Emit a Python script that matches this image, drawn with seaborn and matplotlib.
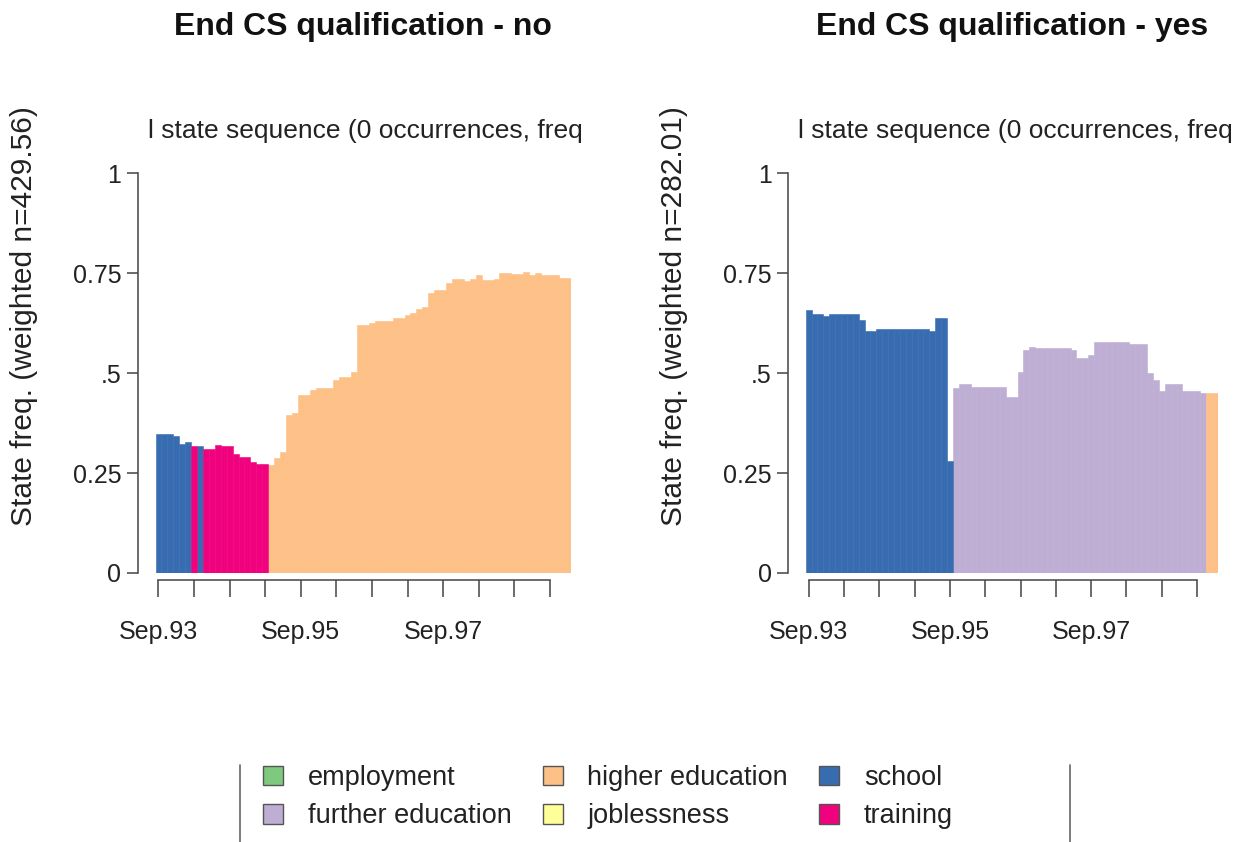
import matplotlib
matplotlib.use('Agg')
import matplotlib.pyplot as plt
import seaborn as sns
import pandas as pd
from matplotlib.patches import Patch
from matplotlib.lines import Line2D

# state alphabet and colours (RColorBrewer "Accent", as TraMineR uses)
states = ['employment', 'further education', 'higher education',
          'joblessness', 'school', 'training']
state_colors = ['#7FC97F', '#BEAED4', '#FDC086', '#FFFF99', '#386CB0', '#F0027F']

# 70 monthly positions, Sep.93 .. Jun.99
months = list(range(70))
tick_months = [0, 6, 12, 18, 24, 30, 36, 42, 48, 54, 60, 66]
tick_labels = ['Sep.93', '', '', '', 'Sep.95', '', '', '', 'Sep.97', '', '', '']

# modal state per month, group "no"
modal_no = (['school'] * 6 + ['training'] + ['school'] + ['training'] * 11
            + ['higher education'] * 51)
freq_no = [0.348, 0.348, 0.348, 0.343, 0.323, 0.328, 0.318, 0.318, 0.309, 0.309,
           0.320, 0.318, 0.318, 0.298, 0.291, 0.291, 0.278, 0.273, 0.273, 0.270,
           0.287, 0.303, 0.395, 0.400, 0.445, 0.445, 0.458, 0.462, 0.462, 0.462,
           0.483, 0.489, 0.489, 0.503, 0.620, 0.620, 0.626, 0.631, 0.631, 0.631,
           0.637, 0.637, 0.645, 0.650, 0.660, 0.665, 0.700, 0.708, 0.708, 0.725,
           0.735, 0.735, 0.730, 0.735, 0.745, 0.733, 0.733, 0.735, 0.750, 0.750,
           0.747, 0.747, 0.752, 0.746, 0.750, 0.745, 0.745, 0.745, 0.737, 0.737]

# modal state per month, group "yes"
modal_yes = ['school'] * 25 + ['further education'] * 43 + ['higher education'] * 2
freq_yes = [0.657, 0.647, 0.647, 0.643, 0.647, 0.647, 0.647, 0.647, 0.647, 0.633,
            0.605, 0.605, 0.609, 0.609, 0.609, 0.609, 0.609, 0.609, 0.609, 0.609,
            0.609, 0.605, 0.637, 0.637, 0.281, 0.462, 0.472, 0.472, 0.466, 0.466,
            0.466, 0.466, 0.466, 0.464, 0.441, 0.441, 0.503, 0.558, 0.566, 0.562,
            0.562, 0.562, 0.562, 0.562, 0.562, 0.558, 0.537, 0.537, 0.545, 0.577,
            0.577, 0.577, 0.577, 0.577, 0.577, 0.572, 0.572, 0.572, 0.499, 0.483,
            0.456, 0.472, 0.472, 0.472, 0.455, 0.455, 0.455, 0.451, 0.449, 0.449]

panels = [
    ('End CS qualification - no', 'State freq. (weighted n=429.56)', modal_no, freq_no),
    ('End CS qualification - yes', 'State freq. (weighted n=282.01)', modal_yes, freq_yes),
]

sns.set_style('white')
plt.rcParams['font.family'] = ['Liberation Sans', 'DejaVu Sans']
palette = dict(zip(states, state_colors))

W, H = 1239, 842
fig = plt.figure(figsize=(W / 100, H / 100), dpi=100)

# pixel boxes of the plotting regions (left, right, top, bottom)
boxes = [(155.5, 570.6, 173, 573), (805.7, 1217.7, 173, 573)]
title_x = [363, 1012]
sub_x = [365, 1015]
ylab_x = [24, 674]

for (title, ylab, modal, freq), (l, r, t, b), tx, sx, yx in zip(panels, boxes, title_x, sub_x, ylab_x):
    ax = fig.add_axes([l / W, 1 - b / H, (r - l) / W, (b - t) / H])
    df = pd.DataFrame({'month': months, 'freq': freq, 'state': modal})
    sns.barplot(data=df, x='month', y='freq', hue='state', hue_order=states,
                palette=palette, dodge=False, width=1, native_scale=True,
                saturation=1, errorbar=None, linewidth=0, legend=False, ax=ax)
    for p in ax.patches:
        p.set_edgecolor(p.get_facecolor())
        p.set_linewidth(0.4)
    ax.set_xlim(-0.5, 69.5)
    ax.set_ylim(0, 1)
    ax.set_xlabel('')
    ax.set_ylabel('')

    for s in ['top', 'right']:
        ax.spines[s].set_visible(False)
    ax.spines['left'].set_position(('outward', 12.6))
    ax.spines['bottom'].set_position(('outward', 5))
    ax.spines['left'].set_bounds(0, 1)
    ax.spines['bottom'].set_bounds(tick_months[0], tick_months[-1])
    for s in ['left', 'bottom']:
        ax.spines[s].set_color('#444444')
        ax.spines[s].set_linewidth(1.1)

    ax.set_yticks([0, 0.25, 0.5, 0.75, 1])
    ax.set_yticklabels(['0', '0.25', '.5', '0.75', '1'])
    ax.set_xticks(tick_months)
    ax.set_xticklabels(tick_labels)
    ax.tick_params(axis='both', bottom=True, left=True, width=1.1,
                   color='#444444', labelsize=18, labelcolor='#222222',
                   direction='out')
    ax.tick_params(axis='x', length=12, pad=17)
    ax.tick_params(axis='y', length=8, pad=4)

    fig.text(tx / W, 1 - 27 / H, title, ha='center', va='center',
             fontsize=23, fontweight='bold', color='#111111')
    fig.text(sx / W, 1 - 131 / H, 'l state sequence (0 occurrences, freq',
             ha='center', va='center', fontsize=19, color='#222222')
    fig.text(yx / W, 1 - 316 / H, ylab, rotation=90, ha='center', va='center',
             fontsize=21.5, color='#222222')

# legend at the bottom, filled column-wise like R
handles = [Patch(facecolor=c, edgecolor='#555555', linewidth=1) for c in state_colors]
fig.legend(handles, states, loc='center', bbox_to_anchor=(608 / W, 1 - 797 / H),
           ncol=3, frameon=False, fontsize=19.5, handlelength=0.75, handleheight=0.75,
           handletextpad=0.9, columnspacing=1.15, labelspacing=0.45,
           labelcolor='#222222')
for lx in [240, 1070]:
    fig.add_artist(Line2D([lx / W, lx / W], [0, 1 - 765 / H], color='#666666', lw=1.2))

fig.savefig('out.png', dpi=100)
